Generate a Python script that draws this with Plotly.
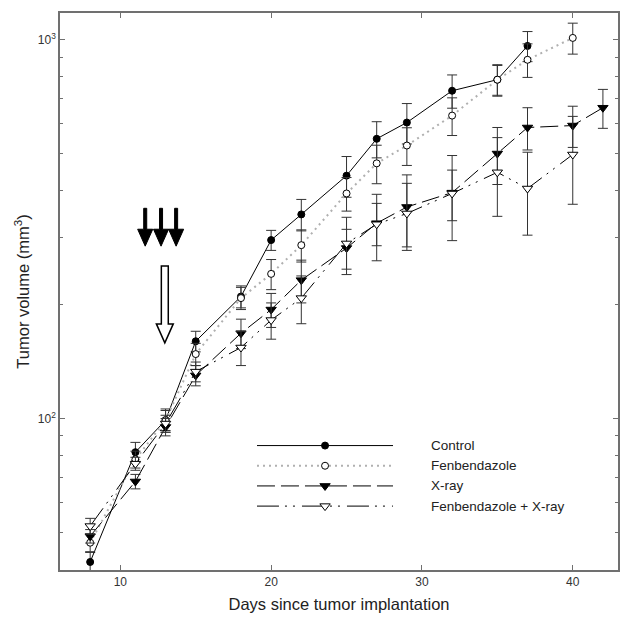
import plotly.graph_objects as go

# ---- data ----
ctrl_days = [8, 11, 13, 15, 18, 20, 22, 25, 27, 29, 32, 35, 37]
ctrl_vals = [41.8, 81.5, 99, 160, 210, 296, 346, 438, 548, 605, 734, 785, 964]
ctrl_err = [2.5, 5, 7, 10, 14, 18, 33, 54, 60, 74, 74, 71, 88]

fen_days = [8, 11, 13, 15, 18, 20, 22, 25, 27, 29, 32, 35, 37, 40]
fen_vals = [47, 78, 99, 148, 208, 241, 287, 393, 472, 526, 631, 785, 886, 1012]
fen_err = [2.5, 4, 6, 10, 14, 22, 28, 40, 55, 60, 72, 75, 90, 95]

xr_days = [8, 11, 13, 15, 18, 20, 22, 25, 27, 29, 32, 35, 37, 40, 42]
xr_vals = [48.9, 68.2, 95, 130, 168, 194, 232, 282, 328, 362, 395, 501, 587, 594, 662]
xr_err = [2, 3, 5, 8, 15, 20, 30, 34, 42, 78, 100, 86, 75, 74, 78]

fx_days = [8, 11, 13, 15, 18, 20, 22, 25, 27, 29, 32, 35, 37, 40]
fx_vals = [52, 76, 97, 133, 154, 182, 208, 290, 326, 348, 393, 447, 405, 498]
fx_err = [2.5, 3, 5, 8, 16, 20, 30, 50, 65, 70, 60, 105, 100, 130]

series_names = ["Control", "Fenbendazole", "X-ray", "Fenbendazole + X-ray"]
x_ticks = [10, 20, 30, 40]
y_tickvals = [100, 1000]
y_ticktext = ["10<sup>2</sup>", "10<sup>3</sup>"]
y_minor = [50, 60, 70, 80, 90, 200, 300, 400, 500, 600, 700, 800, 900]

FONT = "Liberation Sans, Arial, sans-serif"

styles = [
    dict(line=dict(color="black", width=1, dash="solid"),
         marker=dict(symbol="circle", size=7, color="black", line=dict(color="black", width=1))),
    dict(line=dict(color="#b0b0b0", width=2, dash="2px,4px"),
         marker=dict(symbol="circle", size=7, color="white", line=dict(color="black", width=1))),
    dict(line=dict(color="black", width=1, dash="18px,6px"),
         marker=dict(symbol="triangle-down", size=9, color="black", line=dict(color="black", width=1))),
    dict(line=dict(color="black", width=1, dash="22px,6px,2px,6px,2px,7px"),
         marker=dict(symbol="triangle-down", size=9, color="white", line=dict(color="black", width=1))),
]

data = [
    (ctrl_days, ctrl_vals, ctrl_err),
    (fen_days, fen_vals, fen_err),
    (xr_days, xr_vals, xr_err),
    (fx_days, fx_vals, fx_err),
]

fig = go.Figure()

# error bars + lines + markers
for (d, v, e), st, name in zip(data, styles, series_names):
    fig.add_trace(go.Scatter(
        x=d, y=v, mode="lines+markers", name=name,
        line=st["line"], marker=st["marker"],
        error_y=dict(type="data", array=e, visible=True, color="#333333",
                     thickness=1, width=5),
        showlegend=False, cliponaxis=True,
    ))

# manual legend on an overlay axis (long line samples as in reference)
for i, (st, name) in enumerate(zip(styles, series_names)):
    fig.add_trace(go.Scatter(x=[0, 1], y=[i, i], mode="lines", line=st["line"],
                             xaxis="x2", yaxis="y2", showlegend=False, hoverinfo="skip"))
    fig.add_trace(go.Scatter(x=[0.5], y=[i], mode="markers", marker=st["marker"],
                             xaxis="x2", yaxis="y2", showlegend=False, hoverinfo="skip"))
    fig.add_annotation(x=0.661, xref="paper", y=i, yref="y2", text=name,
                       showarrow=False, xanchor="left", yanchor="middle",
                       font=dict(family=FONT, size=13.5, color="#222"))

# treatment arrows (x in days, y in paper fraction)
def py(p):  # pixel row (in the 629x634 reference) -> paper fraction of plot area
    return (570 - p) / 559

shapes = []
for xd in [11.65, 12.7, 13.7]:
    sw, hw = 0.1, 0.5
    path = (f"M {xd - sw},{py(207)} L {xd + sw},{py(207)} L {xd + sw},{py(228)} "
            f"L {xd + hw},{py(228)} L {xd},{py(245)} L {xd - hw},{py(228)} "
            f"L {xd - sw},{py(228)} Z")
    shapes.append(dict(type="path", path=path, xref="x", yref="paper",
                       fillcolor="black", line=dict(color="black", width=1)))
xo = 12.95
sw, hw = 0.23, 0.56
path = (f"M {xo - sw},{py(265)} L {xo + sw},{py(265)} L {xo + sw},{py(323)} "
        f"L {xo + hw},{py(323)} L {xo},{py(342)} L {xo - hw},{py(323)} "
        f"L {xo - sw},{py(323)} Z")
shapes.append(dict(type="path", path=path, xref="x", yref="paper",
                   fillcolor="white", line=dict(color="black", width=1.5)))

axis_common = dict(showgrid=False, zeroline=False, showline=True, linecolor="#707070",
                   linewidth=1.5, mirror="ticks", ticks="inside", tickcolor="#707070",
                   tickfont=dict(family=FONT, size=12, color="#333"))

# page body has an 8px margin, so the figure is sized 8px smaller and shifted
fig.update_layout(
    width=621, height=626,
    margin=dict(l=52, r=11, t=3, b=64),
    paper_bgcolor="white", plot_bgcolor="white",
    font=dict(family=FONT, color="#222"),
    shapes=shapes,
    xaxis=dict(range=[6, 43], tickvals=x_ticks, ticklen=5,
               title=dict(text="Days since tumor implantation",
                          font=dict(family=FONT, size=16.5, color="#222"), standoff=10),
               **axis_common),
    yaxis=dict(type="log", range=[1.6, 3.071], tickvals=y_tickvals, ticktext=y_ticktext,
               ticklen=5,
               minor=dict(tickvals=y_minor, ticks="inside", ticklen=3, tickcolor="#707070"),
               title=dict(text="Tumor volume (mm<sup>3</sup>)",
                          font=dict(family=FONT, size=16.5, color="#222"), standoff=4),
               **axis_common),
    xaxis2=dict(domain=[0.353, 0.597], range=[0, 1], anchor="y2", visible=False),
    yaxis2=dict(domain=[0.0966, 0.2415], range=[3.5, -0.5], anchor="x2", visible=False),
)

fig.write_html("out.html")
